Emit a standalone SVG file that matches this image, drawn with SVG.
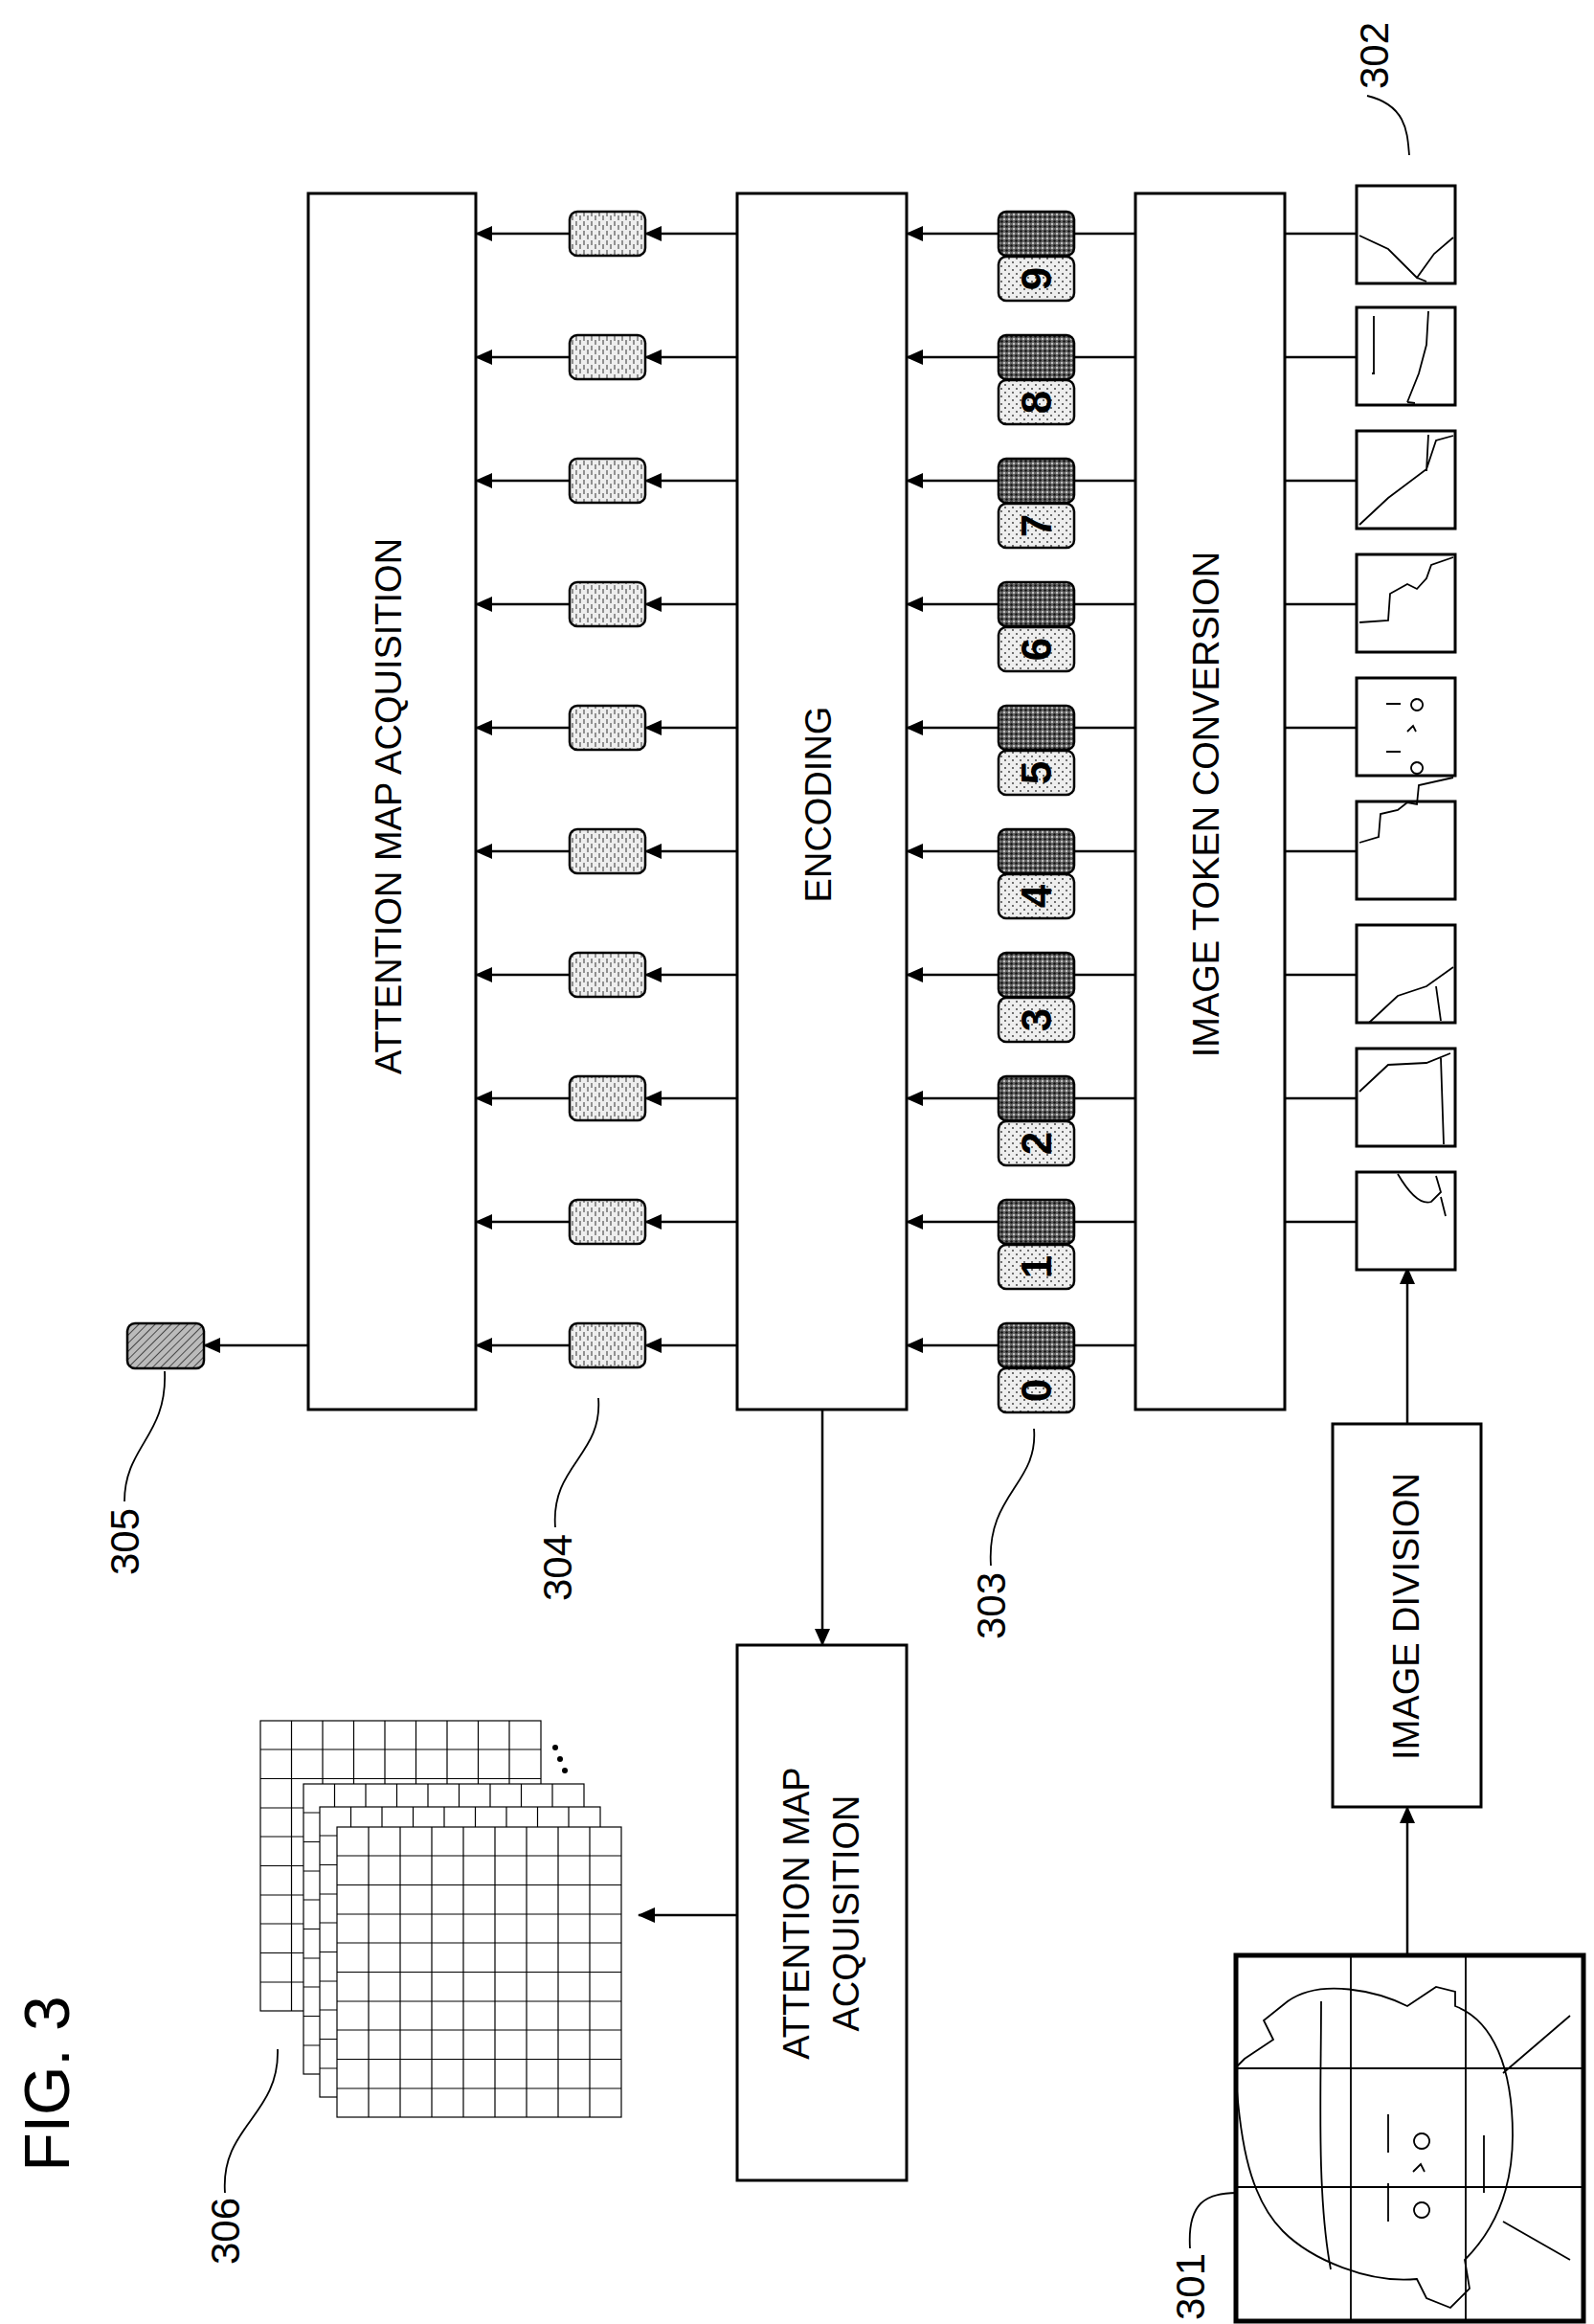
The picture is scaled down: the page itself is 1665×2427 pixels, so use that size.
<svg xmlns="http://www.w3.org/2000/svg" width="1665" height="2427" viewBox="0 0 1665 2427">
<style>
.box{fill:#fff;stroke:#000;stroke-width:3}
.ln{stroke:#000;stroke-width:2.5;fill:none}
.thin{stroke:#000;stroke-width:1.8;fill:none}
.lbl{font-family:"Liberation Sans",Arial,sans-serif;font-size:38px;fill:#000}
.ref{font-family:"Liberation Sans",Arial,sans-serif;font-size:42px;fill:#000}
.num{font-family:"Liberation Sans",Arial,sans-serif;font-size:44px;font-weight:bold;fill:#000}
.grid{fill:#fff;stroke:#000;stroke-width:1.2}
</style>
<defs>
<marker id="ah" markerWidth="18" markerHeight="18" refX="17" refY="9" orient="auto" markerUnits="userSpaceOnUse" viewBox="0 0 18 18"><path d="M0,1 L18,9 L0,17 z" fill="#000"/></marker>
<pattern id="dark" width="5" height="5" patternUnits="userSpaceOnUse"><rect width="5" height="5" fill="#666"/><circle cx="1.5" cy="1.5" r="1.3" fill="#111"/><circle cx="4" cy="4" r="1" fill="#ddd"/></pattern>
<pattern id="light" width="8" height="8" patternUnits="userSpaceOnUse"><rect width="8" height="8" fill="#eee"/><circle cx="2" cy="2" r="0.9" fill="#333"/><circle cx="6" cy="6" r="0.9" fill="#333"/></pattern>
<pattern id="dash" width="8" height="10" patternUnits="userSpaceOnUse"><rect width="8" height="10" fill="#eee"/><path d="M2,1 v5 M6,5 v5" stroke="#333" stroke-width="1"/></pattern>
<pattern id="hatch" width="6" height="6" patternUnits="userSpaceOnUse" patternTransform="rotate(45)"><rect width="6" height="6" fill="#bbb"/><path d="M0,0 v6" stroke="#222" stroke-width="1.5"/></pattern>
</defs>

<g id="fig-title"><text transform="translate(72,2176) rotate(-90)" text-anchor="middle" font-family="Liberation Sans,Arial,sans-serif" font-size="66">FIG. 3</text></g>

<g id="attention-main"><rect class="box" x="322" y="202" width="175" height="1270"/><text class="lbl" transform="translate(419,842) rotate(-90)" text-anchor="middle">ATTENTION MAP ACQUISITION</text></g>
<g id="encoding"><rect class="box" x="770" y="202" width="177" height="1270"/><text class="lbl" transform="translate(868,840) rotate(-90)" text-anchor="middle">ENCODING</text></g>
<g id="token-conversion"><rect class="box" x="1186" y="202" width="156" height="1270"/><text class="lbl" transform="translate(1273,840) rotate(-90)" text-anchor="middle">IMAGE TOKEN CONVERSION</text></g>
<g id="image-division"><rect class="box" x="1392" y="1487" width="155" height="400"/><text class="lbl" transform="translate(1482,1688) rotate(-90)" text-anchor="middle">IMAGE DIVISION</text></g>
<g id="attention-second"><rect class="box" x="770" y="1718" width="177" height="559"/><text class="lbl" transform="translate(845,1998) rotate(-90)" text-anchor="middle">ATTENTION MAP</text><text class="lbl" transform="translate(897,1998) rotate(-90)" text-anchor="middle">ACQUISITION</text></g>

<g id="connectors">
<line class="ln" x1="322" y1="1405" x2="213" y2="1405" marker-end="url(#ah)"/>
<line class="ln" x1="859" y1="1472" x2="859" y2="1718" marker-end="url(#ah)"/>
<line class="ln" x1="770" y1="2000" x2="667" y2="2000" marker-end="url(#ah)"/>
<line class="ln" x1="1470" y1="2042" x2="1470" y2="1887" marker-end="url(#ah)"/>
<line class="ln" x1="1470" y1="1487" x2="1470" y2="1324" marker-end="url(#ah)"/>
<path class="ln" stroke-width="1.8" d="M1186,1405 H1122 M1186,1276 H1122 M1186,1147 H1122 M1186,1018 H1122 M1186,889 H1122 M1186,760 H1122 M1186,631 H1122 M1186,502 H1122 M1186,373 H1122 M1186,244 H1122"/>
<path class="ln" stroke-width="1.8" d="M1342,1276 H1417 M1342,1147 H1417 M1342,1018 H1417 M1342,889 H1417 M1342,760 H1417 M1342,631 H1417 M1342,502 H1417 M1342,373 H1417 M1342,244 H1417"/>
<g marker-end="url(#ah)">
<line class="ln" x1="1043" y1="1405" x2="947" y2="1405"/><line class="ln" x1="1043" y1="1276" x2="947" y2="1276"/><line class="ln" x1="1043" y1="1147" x2="947" y2="1147"/><line class="ln" x1="1043" y1="1018" x2="947" y2="1018"/><line class="ln" x1="1043" y1="889" x2="947" y2="889"/><line class="ln" x1="1043" y1="760" x2="947" y2="760"/><line class="ln" x1="1043" y1="631" x2="947" y2="631"/><line class="ln" x1="1043" y1="502" x2="947" y2="502"/><line class="ln" x1="1043" y1="373" x2="947" y2="373"/><line class="ln" x1="1043" y1="244" x2="947" y2="244"/>
<line class="ln" x1="770" y1="1405" x2="674" y2="1405"/><line class="ln" x1="770" y1="1276" x2="674" y2="1276"/><line class="ln" x1="770" y1="1147" x2="674" y2="1147"/><line class="ln" x1="770" y1="1018" x2="674" y2="1018"/><line class="ln" x1="770" y1="889" x2="674" y2="889"/><line class="ln" x1="770" y1="760" x2="674" y2="760"/><line class="ln" x1="770" y1="631" x2="674" y2="631"/><line class="ln" x1="770" y1="502" x2="674" y2="502"/><line class="ln" x1="770" y1="373" x2="674" y2="373"/><line class="ln" x1="770" y1="244" x2="674" y2="244"/>
<line class="ln" x1="595" y1="1405" x2="497" y2="1405"/><line class="ln" x1="595" y1="1276" x2="497" y2="1276"/><line class="ln" x1="595" y1="1147" x2="497" y2="1147"/><line class="ln" x1="595" y1="1018" x2="497" y2="1018"/><line class="ln" x1="595" y1="889" x2="497" y2="889"/><line class="ln" x1="595" y1="760" x2="497" y2="760"/><line class="ln" x1="595" y1="631" x2="497" y2="631"/><line class="ln" x1="595" y1="502" x2="497" y2="502"/><line class="ln" x1="595" y1="373" x2="497" y2="373"/><line class="ln" x1="595" y1="244" x2="497" y2="244"/>
</g>
</g>

<g id="input-tokens" stroke="#000" stroke-width="2.5">
<g><rect x="1043" y="1382" width="79" height="46" rx="8" fill="url(#dark)"/><rect x="1043" y="1429" width="79" height="46" rx="8" fill="url(#light)"/></g>
<g><rect x="1043" y="1253" width="79" height="46" rx="8" fill="url(#dark)"/><rect x="1043" y="1300" width="79" height="46" rx="8" fill="url(#light)"/></g>
<g><rect x="1043" y="1124" width="79" height="46" rx="8" fill="url(#dark)"/><rect x="1043" y="1171" width="79" height="46" rx="8" fill="url(#light)"/></g>
<g><rect x="1043" y="995" width="79" height="46" rx="8" fill="url(#dark)"/><rect x="1043" y="1042" width="79" height="46" rx="8" fill="url(#light)"/></g>
<g><rect x="1043" y="866" width="79" height="46" rx="8" fill="url(#dark)"/><rect x="1043" y="913" width="79" height="46" rx="8" fill="url(#light)"/></g>
<g><rect x="1043" y="737" width="79" height="46" rx="8" fill="url(#dark)"/><rect x="1043" y="784" width="79" height="46" rx="8" fill="url(#light)"/></g>
<g><rect x="1043" y="608" width="79" height="46" rx="8" fill="url(#dark)"/><rect x="1043" y="655" width="79" height="46" rx="8" fill="url(#light)"/></g>
<g><rect x="1043" y="479" width="79" height="46" rx="8" fill="url(#dark)"/><rect x="1043" y="526" width="79" height="46" rx="8" fill="url(#light)"/></g>
<g><rect x="1043" y="350" width="79" height="46" rx="8" fill="url(#dark)"/><rect x="1043" y="397" width="79" height="46" rx="8" fill="url(#light)"/></g>
<g><rect x="1043" y="221" width="79" height="46" rx="8" fill="url(#dark)"/><rect x="1043" y="268" width="79" height="46" rx="8" fill="url(#light)"/></g>
</g>
<g id="token-numbers">
<text class="num" transform="translate(1098,1452) rotate(-90)" text-anchor="middle">0</text>
<text class="num" transform="translate(1098,1323) rotate(-90)" text-anchor="middle">1</text>
<text class="num" transform="translate(1098,1194) rotate(-90)" text-anchor="middle">2</text>
<text class="num" transform="translate(1098,1065) rotate(-90)" text-anchor="middle">3</text>
<text class="num" transform="translate(1098,936) rotate(-90)" text-anchor="middle">4</text>
<text class="num" transform="translate(1098,807) rotate(-90)" text-anchor="middle">5</text>
<text class="num" transform="translate(1098,678) rotate(-90)" text-anchor="middle">6</text>
<text class="num" transform="translate(1098,549) rotate(-90)" text-anchor="middle">7</text>
<text class="num" transform="translate(1098,420) rotate(-90)" text-anchor="middle">8</text>
<text class="num" transform="translate(1098,291) rotate(-90)" text-anchor="middle">9</text>
</g>

<g id="output-tokens" stroke="#000" stroke-width="2.5" fill="url(#dash)">
<rect x="595" y="1382" width="79" height="46" rx="8"/><rect x="595" y="1253" width="79" height="46" rx="8"/><rect x="595" y="1124" width="79" height="46" rx="8"/><rect x="595" y="995" width="79" height="46" rx="8"/><rect x="595" y="866" width="79" height="46" rx="8"/><rect x="595" y="737" width="79" height="46" rx="8"/><rect x="595" y="608" width="79" height="46" rx="8"/><rect x="595" y="479" width="79" height="46" rx="8"/><rect x="595" y="350" width="79" height="46" rx="8"/><rect x="595" y="221" width="79" height="46" rx="8"/>
</g>
<g id="token-305"><rect x="133" y="1382" width="80" height="47" rx="8" fill="url(#hatch)" stroke="#000" stroke-width="2.5"/></g>

<g id="patches" stroke="#000" stroke-width="3" fill="#fff">
<rect x="1417" y="1224" width="103" height="102"/>
<rect x="1417" y="1095" width="103" height="102"/>
<rect x="1417" y="966" width="103" height="102"/>
<rect x="1417" y="837" width="103" height="102"/>
<rect x="1417" y="708" width="103" height="102"/>
<rect x="1417" y="579" width="103" height="102"/>
<rect x="1417" y="450" width="103" height="102"/>
<rect x="1417" y="321" width="103" height="102"/>
<rect x="1417" y="194" width="103" height="102"/>
</g>
<g id="patch-contents" class="thin">
<path d="M1460,1226 Q1480,1260 1495,1255 L1505,1245 L1500,1228 M1505,1250 L1510,1270"/>
<path d="M1420,1140 L1450,1112 L1490,1110 L1515,1100 M1505,1105 L1508,1195"/>
<path d="M1430,1068 L1460,1040 L1490,1030 L1518,1010 M1500,1030 L1505,1066"/>
<path d="M1420,880 L1440,874 L1442,850 L1460,846 L1470,838 L1480,840 L1482,820 L1518,812"/>
<path d="M1448,785 h15 M1448,735 h15 M1480,796 a6,6 0 1,0 0.1,0 M1480,730 a6,6 0 1,0 0.1,0 M1470,764 l6,-6 l3,6"/>
<path d="M1420,650 L1450,648 L1452,620 L1470,610 L1480,615 L1490,604 L1495,590 L1518,582"/>
<path d="M1420,548 L1450,520 L1490,490 L1500,460 L1518,455 M1490,492 L1492,454"/>
<path d="M1433,390 h3 M1435,330 v60 M1470,420 L1482,390 L1490,360 L1492,325 M1470,420 L1478,421"/>
<path d="M1420,246 L1450,260 L1480,290 L1498,265 L1518,248 M1480,290 L1490,294"/>
</g>

<g id="image-301">
<rect x="1291" y="2042" width="363" height="382" fill="#fff" stroke="#000" stroke-width="5"/>
<path class="thin" d="M1411,2042 V2424 M1531,2042 V2424 M1291,2160 H1654 M1291,2284 H1654"/>
<path class="thin" stroke-width="2" d="M1290,2160 L1300,2150 L1330,2130 L1320,2110 L1345,2090 C1380,2065 1440,2080 1470,2095 L1500,2075 L1520,2080 L1520,2095 C1560,2110 1580,2160 1580,2230 C1580,2290 1560,2330 1530,2360 L1535,2390 L1515,2410 L1490,2400 L1480,2380 C1430,2385 1370,2360 1340,2330 C1300,2290 1295,2220 1290,2160 M1380,2090 C1380,2180 1375,2290 1390,2370 M1570,2165 L1640,2105 M1570,2320 L1640,2360"/>
<path class="thin" stroke-width="2" d="M1450,2280 v40 M1450,2208 v40 M1550,2230 v60 M1485,2300 a8,8 0 1,0 0.1,0 M1485,2228 a8,8 0 1,0 0.1,0 M1476,2268 l8,-8 l4,8"/>
</g>

<g id="grids">
<g class="grid"><rect x="272" y="1797" width="293" height="303"/><path d="M304.5,1797V2100M337,1797V2100M369.5,1797V2100M402,1797V2100M434.5,1797V2100M467,1797V2100M499.5,1797V2100M532,1797V2100M272,1827H565M272,1857.5H565M272,1888H565M272,1918H565M272,1948.5H565M272,1979H565M272,2009H565M272,2039.5H565M272,2070H565"/></g>
<g class="grid"><rect x="317" y="1863" width="293" height="303"/><path d="M349.5,1863V2166M382,1863V2166M414.5,1863V2166M447,1863V2166M479.5,1863V2166M512,1863V2166M544.5,1863V2166M577,1863V2166M317,1893H610M317,1923.5H610M317,1954H610M317,1984H610M317,2014.5H610M317,2045H610M317,2075H610M317,2105.5H610M317,2136H610"/></g>
<g class="grid"><rect x="334" y="1887" width="293" height="303"/><path d="M366.5,1887V2190M399,1887V2190M431.5,1887V2190M464,1887V2190M496.5,1887V2190M529,1887V2190M561.5,1887V2190M594,1887V2190M334,1917H627M334,1947.5H627M334,1978H627M334,2008H627M334,2038.5H627M334,2069H627M334,2099H627M334,2129.5H627M334,2160H627"/></g>
<g class="grid"><rect x="352" y="1908" width="297" height="303"/><path d="M385,1908V2211M418,1908V2211M451,1908V2211M484,1908V2211M517,1908V2211M550,1908V2211M583,1908V2211M616,1908V2211M352,1938H649M352,1968.5H649M352,1999H649M352,2029H649M352,2059.5H649M352,2090H649M352,2120H649M352,2150.5H649M352,2181H649"/></g>
<circle cx="580" cy="1825" r="3"/><circle cx="585" cy="1837" r="3"/><circle cx="590" cy="1849" r="3"/>
</g>

<g id="labels">
<text class="ref" transform="translate(1450,58) rotate(-90)" text-anchor="middle">302</text>
<path class="thin" d="M1428,100 C1470,110 1470,140 1472,162"/>
<text class="ref" transform="translate(145,1610) rotate(-90)" text-anchor="middle">305</text>
<path class="thin" d="M130,1568 C130,1510 175,1500 172,1432"/>
<text class="ref" transform="translate(597,1637) rotate(-90)" text-anchor="middle">304</text>
<path class="thin" d="M580,1595 C575,1530 630,1520 625,1460"/>
<text class="ref" transform="translate(1050,1677) rotate(-90)" text-anchor="middle">303</text>
<path class="thin" d="M1035,1635 C1030,1560 1085,1550 1080,1492"/>
<text class="ref" transform="translate(250,2330) rotate(-90)" text-anchor="middle">306</text>
<path class="thin" d="M235,2290 C230,2220 292,2210 290,2140"/>
<text class="ref" transform="translate(1258,2388) rotate(-90)" text-anchor="middle">301</text>
<path class="thin" d="M1243,2348 C1240,2300 1260,2290 1292,2290"/>
</g>
</svg>
